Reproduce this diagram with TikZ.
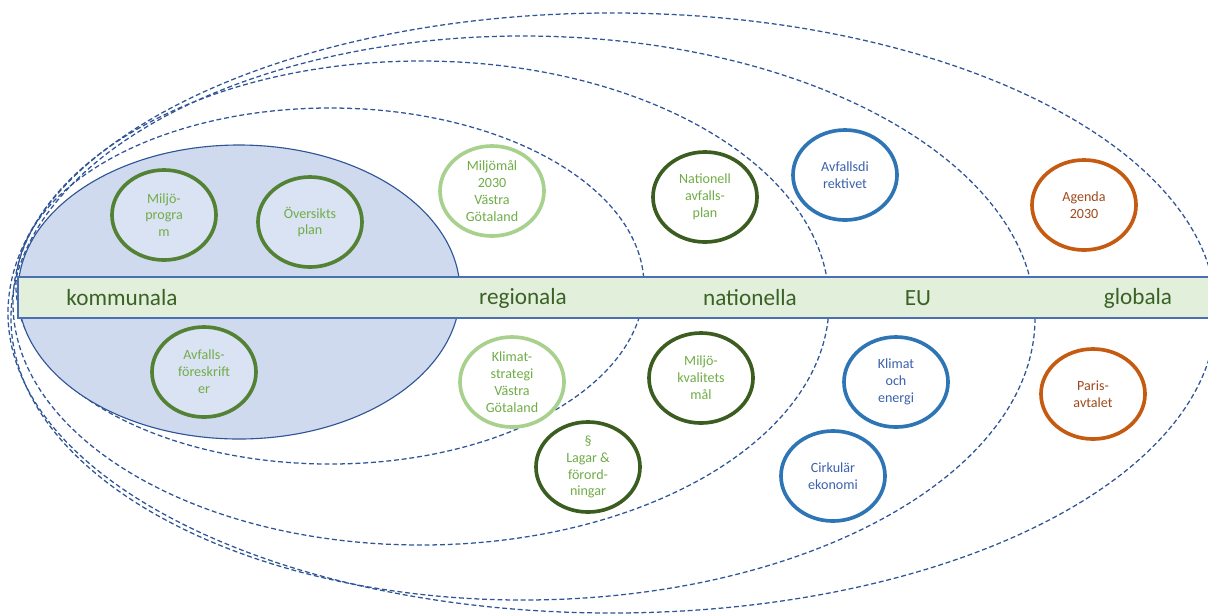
\documentclass[tikz,border=0pt]{standalone}
\usepackage{fontspec}
\setmainfont{Carlito}
\usetikzlibrary{shapes.geometric}
\definecolor{zoneblue}{HTML}{2F5597}
\definecolor{kommfill}{HTML}{CFDAEE}
\definecolor{ringfill}{HTML}{DAE3F3}
\definecolor{bandfill}{HTML}{E2EFDA}
\definecolor{bandline}{HTML}{4A6FB5}
\definecolor{bandtext}{HTML}{3B6226}
\definecolor{midgreen}{HTML}{548235}
\definecolor{darkgreen}{HTML}{3B5E20}
\definecolor{lightgreen}{HTML}{A9D18E}
\definecolor{greentext}{HTML}{70AD47}
\definecolor{eublue}{HTML}{2E75B6}
\definecolor{bluetext}{HTML}{3B62AE}
\definecolor{globorange}{HTML}{C55A11}
\definecolor{orangetext}{HTML}{9E4A1C}

\begin{document}
\begin{tikzpicture}[x=0.025cm,y=-0.025cm,
    zone/.style={draw=zoneblue,line width=0.9pt,dash pattern=on 3.5pt off 2pt},
    ring/.style={ellipse,draw,line width=2.6pt,fill=white,minimum width=2.6cm,
      minimum height=2.25cm,inner sep=0pt,align=center,
      font=\fontsize{10}{12}\selectfont},
    lokal/.style={ring,draw=midgreen,fill=ringfill,text=greentext},
    region/.style={ring,draw=lightgreen,text=greentext},
    nation/.style={ring,draw=darkgreen,text=greentext},
    eu/.style={ring,draw=eublue,text=bluetext},
    global/.style={ring,draw=globorange,text=orangetext},
    niva/.style={text=bandtext,font=\fontsize{16.5}{20}\selectfont}]
    \clip (0,0) rectangle (1208,614);
    % zoner
    \draw[zone] (612,313) ellipse [x radius=604, y radius=300];
    \draw[zone] (523,318) ellipse [x radius=512, y radius=282];
    \draw[zone] (421,303) ellipse [x radius=408, y radius=242];
    \draw[zone] (330,286) ellipse [x radius=314, y radius=178];
    \draw[draw=zoneblue,fill=kommfill,line width=0.8pt] (239,292) ellipse [x radius=221, y radius=147];
    % band
    \draw[bandline,fill=bandfill,line width=0.8pt] (18,277) rectangle (1214,318);
    \node[niva] (kommunala) at (122,298) {kommunala};
    \node[niva] (regionala) at (523,298) {regionala};
    \node[niva] (nationella) at (750,298) {nationella};
    \node[niva] (eunivå) at (918,298) {EU};
    \node[niva] (globala) at (1138,298) {globala};
    % kommunala
    \node[lokal] (miljoprogram) at (164,215) {Miljö-\\progra\\m};
    \node[lokal] (oversikt) at (310,222) {Översikts\\plan};
    \node[lokal] (avfallsforeskr) at (204,372) {Avfalls-\\föreskrift\\er};
    % regionala
    \node[region] (miljomal) at (492,191) {Miljömål\\2030\\Västra\\Götaland};
    \node[region] (klimatstrat) at (512,382) {Klimat-\\strategi\\Västra\\Götaland};
    % nationella
    \node[nation] (lagar) at (588,467) {§\\Lagar \&\\förord-\\ningar};
    \node[nation] (natavfall) at (705,197) {Nationell\\avfalls-\\plan};
    \node[nation] (miljokval) at (701,378) {Miljö-\\kvalitets\\mål};
    % EU
    \node[eu] (avfallsdir) at (845,175) {Avfallsdi\\rektivet};
    \node[eu] (klimatenergi) at (896,382) {Klimat\\och\\energi};
    \node[eu] (cirkular) at (833,476) {Cirkulär\\ekonomi};
    % globala
    \node[global] (agenda) at (1084,205) {Agenda\\2030};
    \node[global] (paris) at (1093,394) {Paris-\\avtalet};
\end{tikzpicture}
\end{document}
